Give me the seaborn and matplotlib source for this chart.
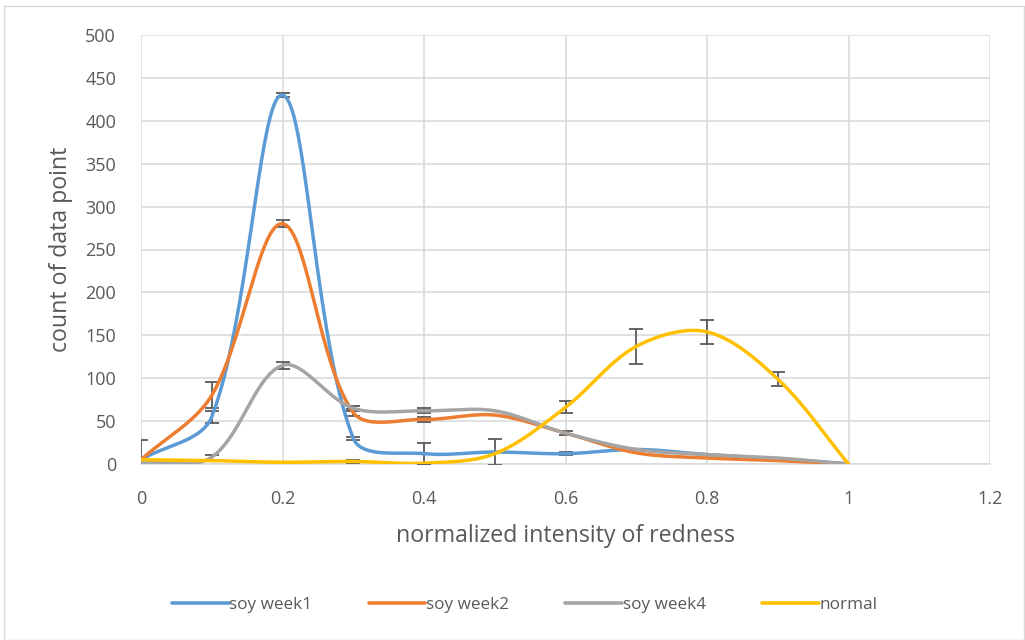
import numpy as np
import pandas as pd
import matplotlib
matplotlib.use("Agg")
import matplotlib.pyplot as plt
import seaborn as sns
from matplotlib.patches import Rectangle
from matplotlib.lines import Line2D

# ---- data ----
x_vals = [0, 0.1, 0.2, 0.3, 0.4, 0.5, 0.6, 0.7, 0.8, 0.9, 1.0]
soy_week1 = [5, 55, 430, 30, 12, 14, 12, 17, 11, 6, 0]
soy_week2 = [5, 80, 280, 60, 52, 57, 36, 13, 7, 4, 0]
soy_week4 = [2, 8, 115, 65, 62, 62, 36, 17, 11, 7, 0]
normal = [5, 4, 2, 3, 1, 12, 66, 137, 154, 99, 0]

err_week1 = [23, 7, 2, 2, 12, 15, 2, np.nan, np.nan, np.nan, np.nan]
err_week2 = [np.nan, 15, 4, 4, 3, np.nan, 2, np.nan, np.nan, np.nan, np.nan]
err_week4 = [np.nan, 3, 4, 3, 3, np.nan, np.nan, np.nan, np.nan, np.nan, np.nan]
err_normal = [np.nan, np.nan, np.nan, 2, np.nan, np.nan, 7, 20, 14, 8, np.nan]

series_names = ["soy week1", "soy week2", "soy week4", "normal"]
series_values = [soy_week1, soy_week2, soy_week4, normal]
series_errors = [err_week1, err_week2, err_week4, err_normal]
colors = ["#5B9BD5", "#ED7D31", "#A5A5A5", "#FFC000"]

x_ticks = [0, 0.2, 0.4, 0.6, 0.8, 1.0, 1.2]
x_ticklabels = ["0", "0.2", "0.4", "0.6", "0.8", "1", "1.2"]
y_ticks = list(range(0, 501, 50))

sns.set_theme(style="white")
plt.rcParams["font.family"] = ["Open Sans", "DejaVu Sans"]

fig = plt.figure(figsize=(10.25, 6.4), dpi=100)
ax = fig.add_axes([141 / 1025, 1 - 464 / 640, (990 - 141) / 1025, (464 - 35) / 640])
ax.set_xlim(0, 1.2)
ax.set_ylim(0, 500)


def excel_smooth(xs, ys, n=40):
    """Excel-like bezier smoothing computed in display space."""
    pts = ax.transData.transform(np.column_stack([xs, ys]))
    P = np.vstack([pts[0], pts, pts[-1]])
    out = []
    for i in range(len(pts) - 1):
        p0, p1, p2, p3 = P[i], P[i + 1], P[i + 2], P[i + 3]
        d01 = np.linalg.norm(p1 - p0)
        d12 = np.linalg.norm(p2 - p1)
        d23 = np.linalg.norm(p3 - p2)
        f1 = d12 / (d01 + d12) if (d01 + d12) > 0 else 0
        f2 = d12 / (d12 + d23) if (d12 + d23) > 0 else 0
        c1 = p1 + (p2 - p0) * f1 / 3
        c2 = p2 - (p3 - p1) * f2 / 3
        t = np.linspace(0, 1, n, endpoint=False)[:, None]
        seg = ((1 - t) ** 3) * p1 + 3 * ((1 - t) ** 2) * t * c1 + 3 * (1 - t) * t ** 2 * c2 + t ** 3 * p2
        out.append(seg)
    out.append(pts[-1][None, :])
    curve = np.vstack(out)
    return ax.transData.inverted().transform(curve)


frames = []
for name, vals in zip(series_names, series_values):
    c = excel_smooth(x_vals, vals)
    frames.append(pd.DataFrame({"x": c[:, 0], "y": c[:, 1], "series": name}))
df = pd.concat(frames, ignore_index=True)

# error bars
for vals, errs in zip(series_values, series_errors):
    ax.errorbar(x_vals, vals, yerr=errs, fmt="none", ecolor="#595959",
                elinewidth=1.3, capsize=5, capthick=1.3, zorder=3)

sns.lineplot(data=df, x="x", y="y", hue="series", hue_order=series_names,
             palette=colors, sort=False, estimator=None, units="series",
             linewidth=2.5, ax=ax, zorder=4, legend=False)

ax.set_xlim(0, 1.2)
ax.set_ylim(0, 500)
ax.set_xticks(x_ticks)
ax.set_xticklabels(x_ticklabels)
ax.set_yticks(y_ticks)
ax.grid(True, color="#D9D9D9", linewidth=1.1)
ax.set_axisbelow(True)
for s in ["top", "right", "left"]:
    ax.spines[s].set_visible(False)
ax.spines["bottom"].set_color("#D9D9D9")
ax.spines["bottom"].set_linewidth(1.1)
ax.tick_params(axis="x", length=0, labelsize=13, labelcolor="#595959", pad=19)
ax.tick_params(axis="y", length=0, labelsize=13, labelcolor="#595959", pad=18)
ax.set_xlabel("normalized intensity of redness", fontsize=16.7, color="#595959", labelpad=11)
ax.set_ylabel("count of data point", fontsize=16.7, color="#595959", labelpad=9)

# legend
handles = [Line2D([0], [0], color=c, linewidth=2.6) for c in colors]
fig.legend(handles, series_names, loc="center", bbox_to_anchor=(0.512, 1 - 605 / 640),
           ncol=4, frameon=False, fontsize=12.3, handlelength=3.3, handletextpad=0.05,
           columnspacing=3.3, labelcolor="#595959")

# chart-area border
fig.patches.append(Rectangle((4 / 1025, 0), 1 - 4 / 1025 - 0.001, 1 - 6 / 640,
                             transform=fig.transFigure, fill=False,
                             edgecolor="#D9D9D9", linewidth=1.0))

fig.savefig("out.png", dpi=100)
